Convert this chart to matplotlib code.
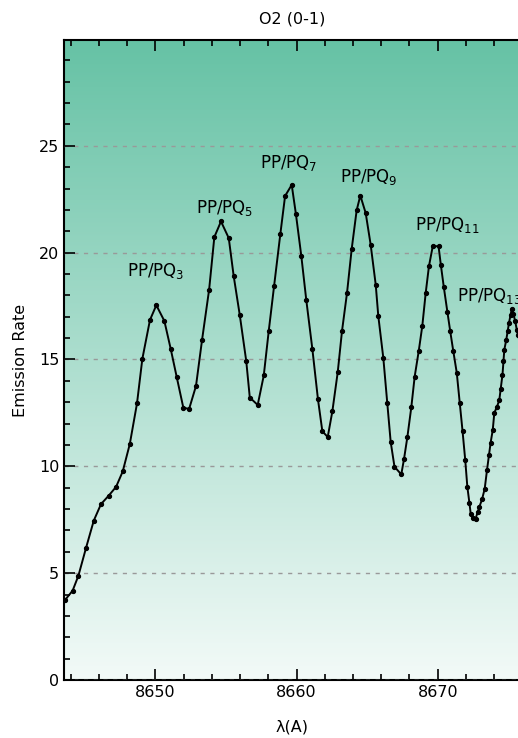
import numpy as np
import matplotlib
matplotlib.use("Agg")
import matplotlib.pyplot as plt
from matplotlib.colors import to_rgb
from matplotlib.ticker import MultipleLocator

plt.rcParams['font.family'] = ['DejaVu Sans']

wavelength = [8643.61, 8644.14, 8644.55, 8645.09, 8645.64, 8646.15, 8646.70, 8647.22, 8647.69, 8648.19,
              8648.70, 8649.08, 8649.62, 8650.07, 8650.64, 8651.09, 8651.52, 8651.98, 8652.39, 8652.88,
              8653.31, 8653.81, 8654.18, 8654.65, 8655.20, 8655.55, 8655.98, 8656.44, 8656.69, 8657.25,
              8657.68, 8658.03, 8658.41, 8658.85, 8659.19, 8659.66, 8659.96, 8660.34, 8660.69, 8661.12,
              8661.52, 8661.83, 8662.21, 8662.54, 8662.92, 8663.22, 8663.58, 8663.91, 8664.26, 8664.52,
              8664.90, 8665.25, 8665.61, 8665.79, 8666.15, 8666.43, 8666.67, 8666.94, 8667.42, 8667.61,
              8667.85, 8668.13, 8668.37, 8668.66, 8668.91, 8669.15, 8669.38, 8669.65, 8670.06, 8670.22,
              8670.43, 8670.69, 8670.89, 8671.10, 8671.35, 8671.56, 8671.76, 8671.95, 8672.10, 8672.25,
              8672.34, 8672.48, 8672.68, 8672.83, 8672.95, 8673.14, 8673.33, 8673.49, 8673.63, 8673.75,
              8673.90, 8674.01, 8674.18, 8674.36, 8674.46, 8674.59, 8674.66, 8674.72, 8674.86, 8674.96,
              8675.05, 8675.16, 8675.25, 8675.36, 8675.48, 8675.60, 8675.69, 8675.95]
emission = [3.75, 4.18, 4.88, 6.18, 7.46, 8.23, 8.63, 9.04, 9.76, 11.04,
            12.94, 15.03, 16.85, 17.54, 16.80, 15.49, 14.16, 12.75, 12.68, 13.76,
            15.92, 18.27, 20.73, 21.46, 20.68, 18.90, 17.08, 14.92, 13.22, 12.87,
            14.25, 16.32, 18.43, 20.85, 22.65, 23.17, 21.79, 19.84, 17.79, 15.50,
            13.13, 11.64, 11.37, 12.58, 14.41, 16.32, 18.13, 20.18, 21.98, 22.67,
            21.85, 20.38, 18.50, 17.05, 15.06, 12.95, 11.14, 9.98, 9.62, 10.32,
            11.36, 12.76, 14.20, 15.41, 16.57, 18.11, 19.36, 20.30, 20.30, 19.44,
            18.40, 17.21, 16.31, 15.41, 14.38, 12.98, 11.65, 10.30, 9.04, 8.27,
            7.77, 7.58, 7.54, 7.85, 8.10, 8.45, 8.95, 9.81, 10.51, 11.11,
            11.70, 12.50, 12.76, 13.08, 13.61, 14.29, 14.92, 15.46, 15.93, 16.34,
            16.71, 17.08, 17.36, 17.13, 16.82, 16.40, 16.14, 15.50]

peak_labels = ['PP/PQ$_3$', 'PP/PQ$_5$', 'PP/PQ$_7$', 'PP/PQ$_9$', 'PP/PQ$_{11}$', 'PP/PQ$_{13}$']
label_x = [8648.0, 8652.9, 8657.4, 8663.1, 8668.4, 8671.4]
label_y = [18.9, 21.85, 23.96, 23.3, 21.04, 17.75]

W, H = 518, 738
fig = plt.figure(figsize=(W / 100, H / 100), dpi=100)
ax = fig.add_axes([64 / W, 1 - 680 / H, (520 - 64) / W, 640 / H])

# gradient background: Set2 green fading towards white at the bottom
top = np.array(to_rgb('#66c2a5'))
t = np.linspace(0, 1, 256)[:, None]
alpha = 0.08 + 0.92 * t
grad = top[None, :] * alpha + (1 - alpha) * np.ones(3)[None, :]
ax.imshow(grad[:, None, :], extent=[0, 1, 0, 1], transform=ax.transAxes,
          aspect='auto', origin='lower', zorder=0)

ax.plot(wavelength, emission, color='black', lw=1.4, marker='o', ms=2.8, zorder=3)

for txt, lx, ly in zip(peak_labels, label_x, label_y):
    ax.text(lx, ly, txt, fontsize=12, ha='left', va='baseline', zorder=4)

ax.set_xlim(8643.53, 8675.83)
ax.set_ylim(0, 29.95)
ax.xaxis.set_major_locator(MultipleLocator(10))
ax.xaxis.set_minor_locator(MultipleLocator(2))
ax.yaxis.set_major_locator(MultipleLocator(5))
ax.yaxis.set_minor_locator(MultipleLocator(1))
ax.tick_params(which='both', direction='in', top=True, right=False, labelsize=11.5, width=1.2)
ax.tick_params(which='major', length=8)
ax.tick_params(which='minor', length=4.5)
ax.grid(axis='y', which='major', color='#999999', ls=(0, (3, 4)), lw=1.0, zorder=1)
ax.set_axisbelow(False)
for s in ['left', 'bottom', 'top']:
    ax.spines[s].set_linewidth(1.5)
ax.spines['right'].set_visible(False)

ax.set_title('O2 (0-1)', fontsize=11.5, pad=12)
ax.set_xlabel('λ(A)', fontsize=11.5, labelpad=14)
ax.set_ylabel('Emission Rate', fontsize=11.5, labelpad=8)

fig.savefig('out.png', dpi=100)
